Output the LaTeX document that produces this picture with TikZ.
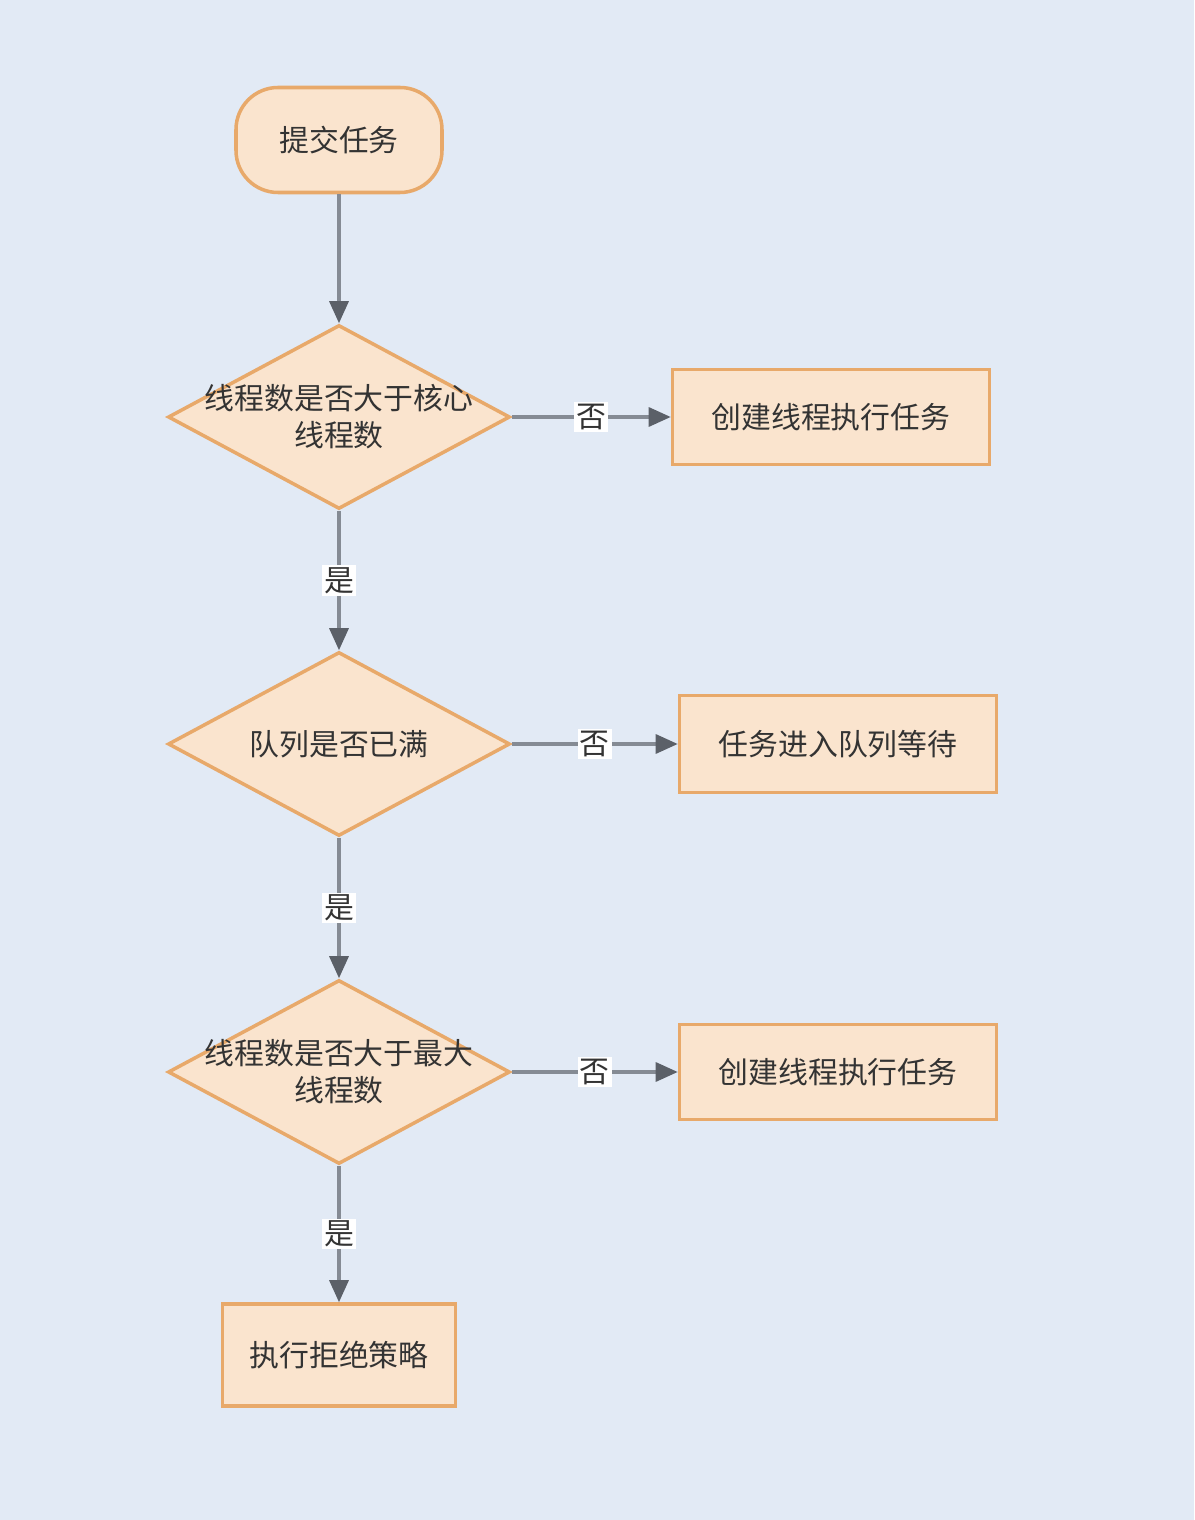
\documentclass[tikz,border=0pt]{standalone}
\usepackage{fontspec}
\setmainfont{Noto Sans CJK SC}
\usepackage{tikz}
\usetikzlibrary{shapes.geometric}
\usetikzlibrary{arrows.meta}

\definecolor{bgblue}{HTML}{E2EAF5}
\definecolor{boxfill}{HTML}{FAE4CE}
\definecolor{boxline}{HTML}{E8A96A}
\definecolor{lineg}{HTML}{858B94}
\definecolor{headg}{HTML}{5B6068}
\definecolor{textg}{HTML}{333333}

\tikzset{
  box/.style={draw=boxline,fill=boxfill,line width=1pt,
    minimum width=3.17cm,minimum height=0.95cm},
  startbox/.style={box,rounded corners=0.42cm,
    minimum width=2.06cm,minimum height=1.05cm},
  decision/.style={diamond,draw=boxline,fill=boxfill,line width=1pt,
    minimum width=3.42cm,minimum height=1.84cm,inner sep=0pt},
  flow/.style={draw=lineg,line width=0.9pt,
    -{Triangle[length=0.22cm,width=0.19cm,color=headg]}},
  answer/.style={fill=white,inner sep=0.6pt},
}

\begin{document}
\begin{tikzpicture}[font=\fontsize{8.5pt}{10.5pt}\selectfont,text=textg]
    \fill[bgblue] (0,0) rectangle (11.94,15.2);
    % left column
    \node[startbox] (submit) at (3.39,13.80) {提交任务};
    \node[decision,label={[align=center]center:{线程数是否大于核心\\线程数}}] (core) at (3.39,11.03) {};
    \node[decision,label={center:{队列是否已满}}] (queue) at (3.39,7.76) {};
    \node[decision,label={[align=center]center:{线程数是否大于最大\\线程数}}] (max) at (3.39,4.48) {};
    \node[box,minimum width=2.33cm,minimum height=1.02cm] (reject) at (3.39,1.65) {执行拒绝策略};
    % right column
    \node[box] (newcore) at (8.31,11.03) {创建线程执行任务};
    \node[box,minimum height=0.97cm] (wait) at (8.38,7.76) {任务进入队列等待};
    \node[box] (newmax) at (8.38,4.48) {创建线程执行任务};
    % connectors
    \draw[flow] (submit) -- (core);
    \draw[flow] (core) -- node[answer]{否} (newcore);
    \draw[flow] (core) -- node[answer]{是} (queue);
    \draw[flow] (queue) -- node[answer]{否} (wait);
    \draw[flow] (queue) -- node[answer]{是} (max);
    \draw[flow] (max) -- node[answer]{否} (newmax);
    \draw[flow] (max) -- node[answer]{是} (reject);
\end{tikzpicture}
\end{document}
